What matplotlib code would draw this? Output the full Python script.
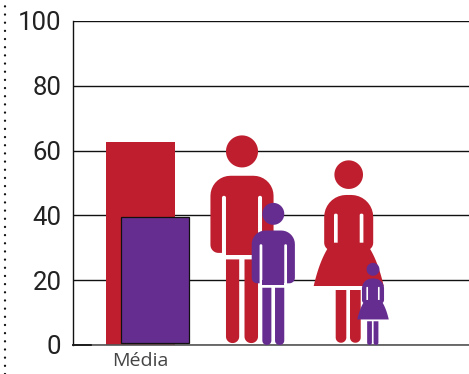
import numpy as np
import matplotlib
matplotlib.use("Agg")
import matplotlib.pyplot as plt
from matplotlib.lines import Line2D

# --- data ---
categories = ["Média"]
y_ticks = [0, 20, 40, 60, 80, 100]
bar_red = [62.6]
bar_purple = [39.5]
man_height, boy_height = 64.0, 43.8
woman_height, girl_height = 56.2, 25.3

RED = "#BE1E2D"
PURPLE = "#662D91"
W, H = 469, 374
L, R, T, B = 72.5, 469, 21, 345
PX = (B - T) / 100.0

plt.rcParams["font.family"] = ["Roboto", "DejaVu Sans"]
fig = plt.figure(figsize=(W / 100, H / 100), dpi=100)
ax = fig.add_axes([L / W, 1 - B / H, (R - L) / W, (B - T) / H])
ax.set_xlim(0, R - L)
ax.set_ylim(0, 100)

ax.set_yticks(y_ticks)
ax.yaxis.grid(True, color="#111111", lw=1.0, zorder=1)
ax.set_axisbelow(True)
for s in ("top", "right"):
    ax.spines[s].set_visible(False)
ax.spines["left"].set_color("#111111")
ax.spines["left"].set_linewidth(1.0)
ax.spines["bottom"].set_color("#555555")
ax.spines["bottom"].set_linewidth(1.2)
ax.tick_params(axis="y", length=0, pad=8, labelsize=18.5, labelcolor="#222222")

cat_x = 67.5
ax.set_xticks([cat_x])
ax.set_xticklabels(categories, fontsize=14, color="#444444", family=["Open Sans", "DejaVu Sans"])
ax.tick_params(axis="x", length=0, pad=5)

ax.bar([cat_x], bar_red, width=69, color=RED, zorder=2, clip_on=False)
ax.bar([cat_x + 15.2], [v - 0.5 for v in bar_purple], bottom=0.5, width=68.4,
       color=PURPLE, edgecolor="#111111", lw=0.9, zorder=3)
ax.plot([0, 18], [0, 0], color="#111111", lw=1.2, zorder=4, clip_on=False)


def rrect(x0, x1, v0, v1, rt=0.0, rb=0.0, n=10):
    """Rounded rectangle in figure-local units; v grows downward."""
    pts = []
    a = np.linspace(0, np.pi / 2, n)
    pts += list(zip(x0 + rt - rt * np.cos(a), v0 + rt - rt * np.sin(a)))
    pts += list(zip(x1 - rt + rt * np.sin(a), v0 + rt - rt * np.cos(a)))
    pts += list(zip(x1 - rb + rb * np.cos(a), v1 - rb + rb * np.sin(a)))
    pts += list(zip(x0 + rb - rb * np.sin(a), v1 - rb + rb * np.cos(a)))
    return np.array(pts)


def circle(cv, r):
    a = np.linspace(0, 2 * np.pi, 60)
    return np.column_stack([r * np.cos(a), cv + r * np.sin(a)])


def skirt(w0, v0, w1, v1, n=24):
    t = np.linspace(0, 1, n)
    cx, cv = w0 + 0.62 * (w1 - w0), v0 + 0.32 * (v1 - v0)
    xr = (1 - t) ** 2 * w0 + 2 * t * (1 - t) * cx + t ** 2 * w1
    vr = (1 - t) ** 2 * v0 + 2 * t * (1 - t) * cv + t ** 2 * v1
    return np.vstack([np.column_stack([xr, vr]), np.column_stack([-xr[::-1], vr[::-1]])])


def male():
    c = [
        (circle(15.7, 16), 0),
        (rrect(-31.5, 31.5, 40, 117, 20, 8), 0),
        (rrect(-20, 20, 119, 123.5), 1),
        (rrect(-20, -16, 60, 120, 2, 0), 1),
        (rrect(16, 20, 60, 120, 2, 0), 1),
        (rrect(-20, 20, 117, 119), 1),
        (rrect(-16, 16, 112, 119), 0),
        (rrect(-16, -2.8, 123.5, 207, 0, 6.5), 0),
        (rrect(2.5, 16, 123.5, 207, 0, 6.5), 0),
    ]
    return c, 207.0


def female():
    c = [
        (circle(14, 14.3), 0),
        (rrect(-24.5, 24.5, 34.3, 90, 22, 8), 0),
        (skirt(17, 82, 35, 125.3), 0),
        (rrect(-14.7, -11, 53, 82, 1.5, 0), 1),
        (rrect(11, 14.7, 53, 82, 1.5, 0), 1),
        (rrect(-13, -2.4, 129.3, 182, 0, 5.2), 0),
        (rrect(1.3, 12, 129.3, 182, 0, 5.2), 0),
    ]
    return c, 182.0


def draw_person(shape, cx, base, height, color, z):
    parts, ref = shape
    s = height * PX / ref
    for i, (pts, white) in enumerate(parts):
        x = cx + s * pts[:, 0]
        y = base + height - s * pts[:, 1] / PX
        ax.fill(x, y, color="white" if white else color, lw=0, zorder=z + i * 0.01, clip_on=False)


draw_person(male(), 242 - L, 0.6, man_height, RED, 5)
draw_person(male(), 273.3 - L, 0.0, boy_height, PURPLE, 6)
draw_person(female(), 348.7 - L, 0.7, woman_height, RED, 7)
draw_person(female(), 373 - L, 0.0, girl_height, PURPLE, 8)

fig.add_artist(Line2D([5 / W, 5 / W], [0, 1], transform=fig.transFigure, color="#111111",
                      lw=1.7, linestyle=(0, (0.01, 3.45)), dash_capstyle="round"))

fig.savefig("out.png", dpi=100)
